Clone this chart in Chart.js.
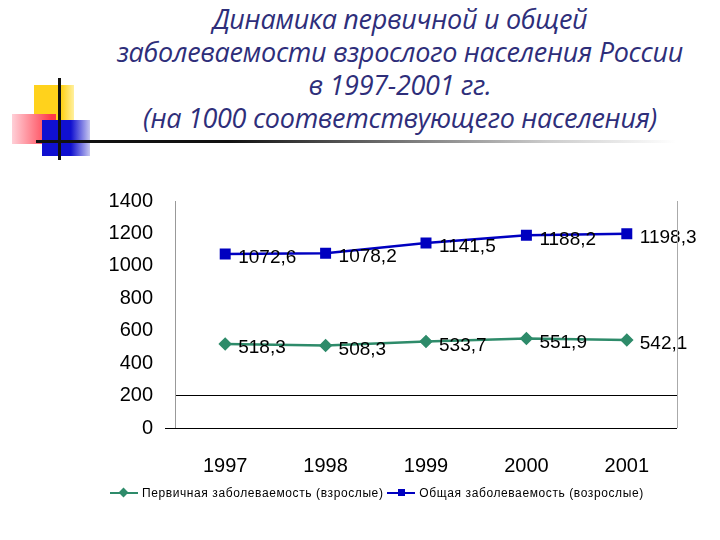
<!DOCTYPE html>
<html><head><meta charset="utf-8">
<script src="https://cdn.jsdelivr.net/npm/chart.js@4"></script>
<style>
body{margin:0;width:720px;height:540px;background:#fff;position:relative;overflow:hidden;font-family:Arial,"Liberation Sans",sans-serif}
#title{position:absolute;left:90px;top:2px;width:620px;text-align:center;font-family:"Open Sans","DejaVu Sans",sans-serif;font-style:italic;font-size:27px;line-height:33px;color:#2e2e7a;letter-spacing:-0.3px}
.d{position:absolute}
#legend{position:absolute;top:485px;left:110px;font-size:12px;color:#000;white-space:nowrap;letter-spacing:0.6px}
#legend span{display:inline-block;vertical-align:middle}
canvas{position:absolute;left:0;top:0}
</style></head><body>
<div class="d" style="left:34px;top:85px;width:40px;height:36px;background:linear-gradient(90deg,#ffd21c 70%,#fff0a0)"></div>
<div class="d" style="left:12px;top:114px;width:44px;height:30px;background:linear-gradient(90deg,#ffd0d8,#ff3848 90%)"></div>
<div class="d" style="left:42px;top:120px;width:48px;height:36px;background:linear-gradient(90deg,#1010d0 60%,#c8c8f0)"></div>
<div class="d" style="left:58px;top:78px;width:3px;height:82px;background:#111"></div>
<div class="d" style="left:36px;top:140px;width:640px;height:3px;background:linear-gradient(90deg,#111 30%,#ccc 80%,#fff)"></div>
<div id="title">Динамика первичной и общей<br>заболеваемости взрослого населения России<br>в 1997-2001 гг.<br>(на 1000 соответствующего населения)</div>
<canvas id="c" width="720" height="540"></canvas>
<div id="legend"><span style="position:relative;width:28px;height:2px;background:#2e8b6a"><span style="position:absolute;left:10px;top:-3px;width:7px;height:7px;background:#2e8b6a;transform:rotate(45deg)"></span></span> <span>Первичная заболеваемость (взрослые)</span> <span style="position:relative;width:28px;height:2px;background:#0000c0"><span style="position:absolute;left:11px;top:-3px;width:7px;height:7px;background:#0000c0"></span></span> <span>Общая заболеваемость (возрослые)</span></div>
<script>
const years=["1997","1998","1999","2000","2001"];
const primary=[518.3,508.3,533.7,551.9,542.1];
const total=[1072.6,1078.2,1141.5,1188.2,1198.3];
const primaryLabels=["518,3","508,3","533,7","551,9","542,1"];
const totalLabels=["1072,6","1078,2","1141,5","1188,2","1198,3"];
const labelPlugin={id:'lbl',afterDatasetsDraw(ch){const c=ch.ctx;c.save();c.font='19px Arial, "Liberation Sans"';c.fillStyle='#000';c.textBaseline='middle';
[[1,totalLabels,4],[0,primaryLabels,4]].forEach(([i,l,dy])=>{ch.getDatasetMeta(i).data.forEach((p,k)=>{c.fillText(l[k],p.x+13,p.y+dy);});});
const a=ch.chartArea;c.strokeStyle='#aaa';c.lineWidth=1;c.beginPath();c.moveTo(a.right+0.5,a.top);c.lineTo(a.right+0.5,a.bottom);c.stroke();
c.strokeStyle='#000';c.beginPath();c.moveTo(165,a.bottom+0.5);c.lineTo(a.right,a.bottom+0.5);c.stroke();
c.restore();}};
new Chart(document.getElementById('c'),{type:'line',
data:{labels:years,datasets:[
{label:'Первичная заболеваемость (взрослые)',data:primary,borderColor:'#2e8b6a',backgroundColor:'#2e8b6a',borderWidth:2.5,pointStyle:'rectRot',pointRadius:5,tension:0},
{label:'Общая заболеваемость (возрослые)',data:total,borderColor:'#0000c0',backgroundColor:'#0000c0',borderWidth:2.5,pointStyle:'rect',pointRadius:6,tension:0}]},
options:{responsive:false,animation:false,devicePixelRatio:1,
layout:{padding:{top:201,right:43,bottom:60,left:0}},
plugins:{legend:{display:false},tooltip:{enabled:false}},
scales:{
y:{min:0,max:1400,afterFit(s){s.width=175;},ticks:{stepSize:200,color:'#000',font:{size:20,family:'Arial'},padding:22,callback:(v)=>String(v)},
grid:{drawTicks:false,color:(ctx)=>ctx.tick&&ctx.tick.value===200?'#000':'rgba(0,0,0,0)'},border:{color:'#999'}},
x:{offset:true,afterFit(s){s.height=52;},ticks:{color:'#000',font:{size:20,family:'Arial'},padding:18},grid:{display:false,offset:true},border:{display:false}}}},
plugins:[labelPlugin]});
</script></body></html>
